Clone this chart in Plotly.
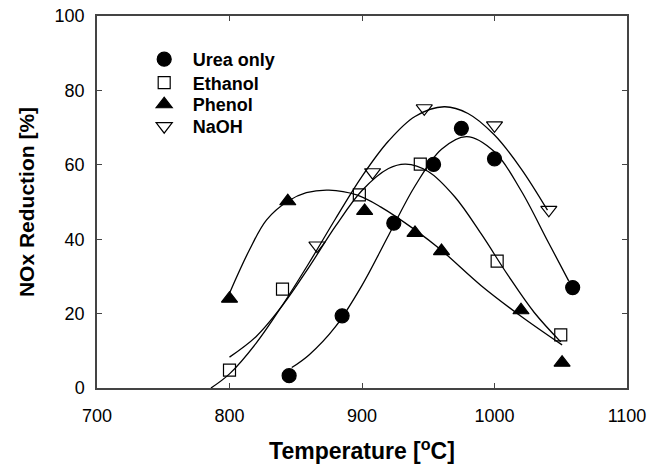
import plotly.graph_objects as go

# measured data points
urea_x = [845, 885, 924, 954, 975, 1000, 1059]
urea_y = [3.3, 19.4, 44.3, 60.1, 69.8, 61.6, 27.0]
ethanol_x = [800, 840, 898, 944, 1002, 1050]
ethanol_y = [4.8, 26.6, 51.9, 60.2, 34.1, 14.3]
phenol_x = [800, 844, 902, 940, 960, 1020, 1051]
phenol_y = [24.0, 50.2, 47.6, 41.7, 36.8, 20.9, 6.8]
naoh_x = [866, 908, 947, 1000, 1041]
naoh_y = [38.3, 58.0, 75.2, 70.6, 47.9]

# fitted curves
urea_fit_x = [847, 860, 880, 900, 920, 940, 960, 979, 1000, 1020, 1040, 1056]
urea_fit_y = [5.5, 8.9, 16.5, 27.6, 41.0, 54.3, 64.2, 67.6, 63.5, 53.1, 39.6, 28.8]
ethanol_fit_x = [800, 820, 840, 860, 880, 900, 920, 933, 950, 970, 990, 1010, 1030, 1050]
ethanol_fit_y = [8.3, 13.8, 22.2, 32.5, 43.5, 53.1, 59.0, 60.2, 58.2, 51.4, 41.4, 30.4, 20.3, 12.4]
phenol_fit_x = [800, 815, 828, 844, 858, 875, 896, 914, 940, 960, 990, 1020, 1051]
phenol_fit_y = [25.5, 37.1, 45.2, 50.2, 52.5, 53.2, 51.9, 48.7, 42.5, 37.0, 27.5, 19.3, 11.6]
naoh_fit_x = [786, 800, 820, 840, 860, 880, 900, 920, 940, 962, 980, 1000, 1020, 1040]
naoh_fit_y = [0.0, 3.8, 12.0, 22.3, 33.6, 45.5, 56.9, 66.4, 73.0, 75.6, 73.8, 68.0, 59.0, 47.8]

x_ticks = [700, 800, 900, 1000, 1100]
y_ticks = [0, 20, 40, 60, 80, 100]

FONT = "Liberation Sans, Arial, sans-serif"
AX = "#444444"

fig = go.Figure()

for fx, fy in [(urea_fit_x, urea_fit_y), (ethanol_fit_x, ethanol_fit_y),
               (phenol_fit_x, phenol_fit_y), (naoh_fit_x, naoh_fit_y)]:
    fig.add_trace(go.Scatter(x=fx, y=fy, mode="lines", showlegend=False,
                             line=dict(color="black", width=1.3, shape="spline", smoothing=1.0),
                             hoverinfo="skip"))

series = [
    ("Urea only", urea_x, urea_y, "circle", 14, "legend"),
    ("Ethanol", ethanol_x, ethanol_y, "square-open", 12, "legend2"),
    ("Phenol", phenol_x, phenol_y, "triangle-up", 14, "legend3"),
    ("NaOH", naoh_x, naoh_y, "triangle-down-open", 14, "legend4"),
]
for name, xs, ys, sym, sz, lg in series:
    fig.add_trace(go.Scatter(x=xs, y=ys, mode="markers", name=name, legend=lg,
                             marker=dict(symbol=sym, size=sz, color="black",
                                         line=dict(color="black", width=1.2))))

leg_font = dict(family=FONT, size=18, color="black", weight="bold")
leg_common = dict(x=0.073, xanchor="left", yanchor="middle",
                  bgcolor="rgba(0,0,0,0)", borderwidth=0, itemwidth=47,
                  font=leg_font)

fig.update_layout(
    width=666, height=466,
    margin=dict(l=96.5, r=39, t=15.7, b=78),
    paper_bgcolor="white", plot_bgcolor="white",
    font=dict(family=FONT, color="black", size=18),
    showlegend=True,
    legend=dict(y=0.883, **leg_common),
    legend2=dict(y=0.820, **leg_common),
    legend3=dict(y=0.762, **leg_common),
    legend4=dict(y=0.703, **leg_common),
)
fig.update_xaxes(
    range=[700, 1100], tickvals=x_ticks, ticktext=[str(v) for v in x_ticks],
    showline=True, linecolor=AX, linewidth=1.5, mirror="ticks",
    ticks="inside", ticklen=5, tickcolor=AX, tickwidth=1.2,
    showgrid=False, zeroline=False, ticklabelstandoff=11, automargin=False,
    tickfont=dict(family=FONT, size=18, color="black"),
    title=dict(text="Temperature [<sup>o</sup>C]", standoff=18,
               font=dict(family=FONT, size=23, color="black", weight="bold")),
)
fig.update_yaxes(
    range=[0, 100], tickvals=y_ticks, ticktext=[str(v) for v in y_ticks],
    showline=True, linecolor=AX, linewidth=1.5, mirror="ticks",
    ticks="inside", ticklen=5, tickcolor=AX, tickwidth=1.2,
    showgrid=False, zeroline=False, ticklabelstandoff=7, automargin=False,
    tickfont=dict(family=FONT, size=18, color="black"),
    title=dict(text="NOx Reduction [%]", standoff=14,
               font=dict(family=FONT, size=21, color="black", weight="bold")),
)

fig.write_html("out.html")
